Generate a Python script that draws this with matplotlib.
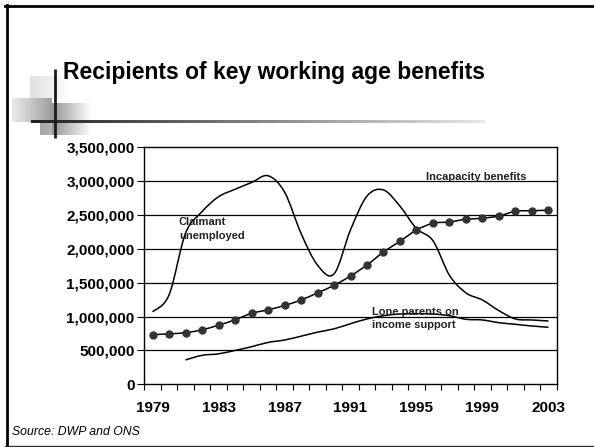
import numpy as np
import matplotlib
matplotlib.use("Agg")
import matplotlib.pyplot as plt
from matplotlib.path import Path
from matplotlib.patches import PathPatch

plt.rcParams['font.family'] = ['Liberation Sans', 'DejaVu Sans']

# data
years = list(range(1979, 2004))
claimant = [1.07, 1.32, 2.23, 2.55, 2.77, 2.88, 2.98, 3.08, 2.84, 2.23, 1.76, 1.63, 2.28,
            2.78, 2.87, 2.63, 2.30, 2.12, 1.61, 1.35, 1.245, 1.087, 0.965, 0.95, 0.935]
incapacity = [0.733, 0.745, 0.762, 0.804, 0.874, 0.952, 1.048, 1.10, 1.164, 1.245, 1.35, 1.462,
              1.60, 1.762, 1.954, 2.112, 2.279, 2.378, 2.397, 2.437, 2.452, 2.486, 2.555, 2.564, 2.570]
lone_parents = [None, None, 0.36, 0.428, 0.45, 0.50, 0.555, 0.618, 0.654, 0.71, 0.77, 0.819,
                0.895, 0.965, 1.013, 1.038, 1.043, 1.038, 1.013, 0.96, 0.95, 0.91, 0.886, 0.861, 0.842]
year_labels = ['1979', '1983', '1987', '1991', '1995', '1999', '2003']
y_ticks = [0, 500000, 1000000, 1500000, 2000000, 2500000, 3000000, 3500000]


def smooth_path(xs, ys):
    # Excel style smoothed line: bezier segments through the points
    pts = np.array(list(zip(xs, ys)), dtype=float)
    verts = [pts[0]]
    codes = [Path.MOVETO]
    n = len(pts)
    for i in range(n - 1):
        p0 = pts[i - 1] if i > 0 else pts[i]
        p1 = pts[i]
        p2 = pts[i + 1]
        p3 = pts[i + 2] if i + 2 < n else pts[i + 1]
        verts += [p1 + (p2 - p0) / 6, p2 - (p3 - p1) / 6, p2]
        codes += [Path.CURVE4] * 3
    return Path(verts, codes)


W, H = 594, 447
fig = plt.figure(figsize=(W / 100, H / 100), dpi=100)

# slide decoration layer (pixel coordinates)
deco = fig.add_axes([0, 0, 1, 1])
deco.set_xlim(0, W)
deco.set_ylim(H, 0)
deco.axis('off')


def grad(x0, x1, y0, y1, c0, c1, vertical=False):
    g = np.linspace(c0, c1, 64)
    img = g.reshape(-1, 1) if vertical else g.reshape(1, -1)
    deco.imshow(img, cmap='gray', vmin=0, vmax=1, extent=(x0, x1, y1, y0),
                aspect='auto', interpolation='bilinear', zorder=1)


grad(30, 72, 76, 98, 0.88, 1.0)
grad(12, 52, 98, 122, 0.92, 0.62)
grad(52, 92, 103, 135, 0.58, 1.0)
grad(40, 52, 122, 135, 0.65, 0.7)
grad(31, 485, 120.5, 123, 0.13, 0.9)
deco.plot([55, 55], [69, 138], color='#1a1a1a', lw=2, zorder=3, solid_capstyle='butt')
deco.plot([6.5, 6.5], [5, 446], color='black', lw=2, zorder=3)
deco.plot([5, W], [6, 6], color='black', lw=2, zorder=3)
deco.plot([5, W], [445.5, 445.5], color='#333333', lw=1, zorder=3)
deco.set_xlim(0, W)
deco.set_ylim(H, 0)

fig.text(63 / W, 1 - 72 / H, 'Recipients of key working age benefits', fontsize=16.5,
         fontweight='bold', ha='left', va='center')
fig.text(12 / W, 1 - 432 / H, 'Source: DWP and ONS', fontsize=8.8, style='italic',
         ha='left', va='center')

ax = fig.add_axes([144.3 / W, 1 - 384.3 / H, 412.4 / W, 237 / H])
x = np.arange(len(years))
mil = lambda v: [a * 1e6 for a in v]

for yv in y_ticks[1:-1]:
    ax.axhline(yv, color='black', lw=0.9, zorder=1)

ax.add_patch(PathPatch(smooth_path(x, mil(claimant)), fill=False, color='black', lw=1.1, zorder=3))
lp = [(i, v) for i, v in enumerate(lone_parents) if v is not None]
ax.add_patch(PathPatch(smooth_path([p[0] for p in lp], mil([p[1] for p in lp])),
                       fill=False, color='black', lw=1.1, zorder=3))
ax.add_patch(PathPatch(smooth_path(x, mil(incapacity)), fill=False, color='black', lw=1.1, zorder=3))
ax.plot(x, mil(incapacity), 'o', color='#333333', ms=5, zorder=4)

ax.set_xlim(-0.5, len(years) - 0.5)
ax.set_ylim(0, 3500000)
ax.set_yticks(y_ticks)
ax.set_yticklabels([f'{v:,}' for v in y_ticks], fontsize=11, fontweight='bold')
ax.set_xticks(np.arange(-0.5, len(years)))
ax.set_xticklabels([])
ax.set_xticks(x[::4], minor=True)
ax.set_xticklabels(year_labels, minor=True, fontsize=11, fontweight='bold')
ax.tick_params(axis='x', which='major', direction='out', length=4, width=0.8)
ax.tick_params(axis='x', which='minor', length=0, pad=12)
ax.tick_params(axis='y', direction='out', length=5, width=0.8, pad=2)
for s in ax.spines.values():
    s.set_linewidth(1)

lab = dict(fontsize=8, fontweight='bold', color='#222222', va='center')
ax.text(13.3, 1.072e6, 'Lone parents on', **lab)
ax.text(13.3, 0.876e6, 'income support', **lab)
ax.text(1.6, 2.40e6, 'Claimant', **lab)
ax.text(1.6, 2.19e6, 'unemployed', **lab)
ax.text(19.6, 3.06e6, 'Incapacity benefits', ha='center', **lab)

fig.savefig('out.png', dpi=100)
